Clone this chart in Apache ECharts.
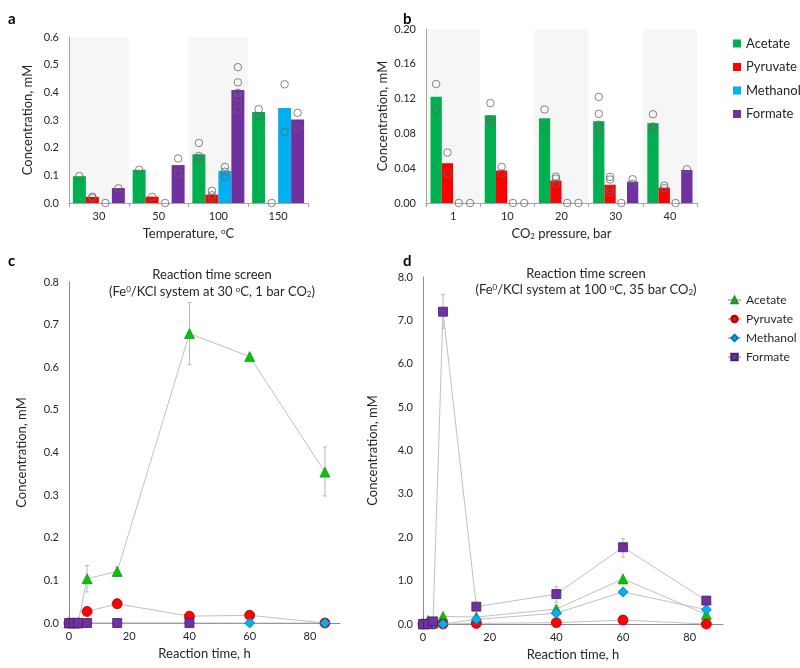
<!DOCTYPE html>
<html><head><meta charset="utf-8">
<script src="https://cdn.jsdelivr.net/npm/echarts@6/dist/echarts.min.js"></script>
<style>html,body{margin:0;padding:0;background:#fff}#chart{width:800px;height:668px}</style>
</head><body><div id="chart"></div>
<script>
// ---------- data ----------
const seriesNames = ['Acetate', 'Pyruvate', 'Methanol', 'Formate'];

// panel a: temperature screen
const aCategories = ['30', '50', '100', '150'];
const aAcetate  = [0.097, 0.120, 0.176, 0.329];
const aPyruvate = [0.022, 0.023, 0.030, 0];
const aMethanol = [0, 0, 0.116, 0.343];
const aFormate  = [0.054, 0.137, 0.408, 0.302];
const aAcetatePts  = [[0.097], [0.120], [0.217, 0.170, 0.162], [0.339, 0.313]];
const aPyruvatePts = [[0.023, 0.018], [0.022], [0.044, 0.028, 0.018], [0]];
const aMethanolPts = [[0], [0], [0.130, 0.113, 0.095], [0.429, 0.257]];
const aFormatePts  = [[0.053], [0.161, 0.106], [0.491, 0.436, 0.398, 0.382, 0.337], [0.326, 0.271]];

// panel b: CO2 pressure screen
const bCategories = ['1', '10', '20', '30', '40'];
const bAcetate  = [0.122, 0.101, 0.0975, 0.094, 0.0918];
const bPyruvate = [0.0457, 0.0373, 0.0258, 0.021, 0.0177];
const bMethanol = [0, 0, 0, 0, 0];
const bFormate  = [0, 0, 0, 0.0246, 0.038];
const bAcetatePts  = [[0.1367, 0.1075], [0.1148, 0.096, 0.0926], [0.1075, 0.0875], [0.122, 0.1025, 0.090, 0.087, 0.078], [0.102, 0.088, 0.085]];
const bPyruvatePts = [[0.058, 0.034], [0.0415, 0.034], [0.0304, 0.028, 0.022], [0.030, 0.027, 0.0158, 0.012], [0.020, 0.017]];
const bMethanolPts = [[0], [0], [0], [0], [0]];
const bFormatePts  = [[0], [0], [0], [0.0273, 0.022], [0.0388]];

// panel c: reaction time, 30 oC, 1 bar
const cTime     = [0, 1.5, 3, 6, 16, 40, 60, 85];
const cAcetate  = [0, 0, 0, 0.104, 0.121, 0.679, 0.625, 0.354];
const cPyruvate = [0, 0, 0, 0.027, 0.045, 0.016, 0.018, 0];
const cMethanol = [0, 0, 0, 0, 0, 0, 0, 0];
const cFormate  = [0, 0, 0, 0, 0, 0, null, null];
const cAcetateErr  = [[6, 0.073, 0.135], [16, 0.108, 0.132], [40, 0.606, 0.752], [60, 0.618, 0.632], [85, 0.298, 0.413]];
const cPyruvateErr = [[16, 0.035, 0.057]];

// panel d: reaction time, 100 oC, 35 bar
const dTime     = [0, 1.5, 3, 6, 16, 40, 60, 85];
const dAcetate  = [0, 0.08, 0.02, 0.175, 0.16, 0.345, 1.04, 0.22];
const dPyruvate = [0, 0, 0, 0, 0.014, 0.03, 0.09, 0];
const dMethanol = [0, 0, 0, 0, 0.106, 0.25, 0.74, 0.33];
const dFormate  = [0, 0, 0.06, 7.20, 0.40, 0.69, 1.77, 0.54];
const dFormateErr = [[6, 6.82, 7.60], [40, 0.50, 0.86], [60, 1.54, 1.97]];

// ---------- styles ----------
const FONT = 'Lato';
const TXT = '#262626';
const AXIS = '#a6a6a6';
const barColors = ['#00b050', '#ff0000', '#00b0f0', '#7030a0'];
const markers = [
  {symbol: 'triangle', size: 10, color: '#00c800', border: '#2e8b2e'},
  {symbol: 'circle', size: 10, color: '#ff0000', border: '#b00000'},
  {symbol: 'diamond', size: 10, color: '#00b0f0', border: '#0070c0'},
  {symbol: 'rect', size: 9, color: '#7030a0', border: '#4a2070'}
];
const aGap = 0.13, bGap = 0.167;

function replicatePoints(lists, gap) {
  const w = (1 - gap) / 4, out = [];
  lists.forEach((perCat, k) => perCat.forEach((vals, i) =>
    vals.forEach(v => out.push([i + 0.5 + (k - 1.5) * w, v]))));
  return out;
}
function barSeries(values, k, xi, yi, gap) {
  return {type: 'bar', name: seriesNames[k], xAxisIndex: xi, yAxisIndex: yi, data: values,
    barGap: '0%', barCategoryGap: (gap * 100) + '%', itemStyle: {color: barColors[k]}, silent: true};
}
function repSeries(data, xi, yi) {
  return {type: 'scatter', name: 'replicates', xAxisIndex: xi, yAxisIndex: yi, data: data, symbol: 'circle',
    symbolSize: 7.5, itemStyle: {color: 'rgba(0,0,0,0)', borderColor: '#666666', borderWidth: 1}, z: 4, silent: true};
}
function lineSeries(times, values, k, xi, yi) {
  const m = markers[k];
  const data = [];
  times.forEach((t, i) => { if (values[i] !== null) data.push([t, values[i]]); });
  return {type: 'line', name: seriesNames[k] + '|t', xAxisIndex: xi, yAxisIndex: yi, data: data,
    symbol: m.symbol, symbolSize: m.size, showAllSymbol: true,
    lineStyle: {color: '#c0c0c0', width: 1},
    itemStyle: {color: m.color, borderColor: m.border, borderWidth: 0.8}, z: 3 + k * 0.1, silent: true};
}
function errSeries(data, xi, yi) {
  return {type: 'custom', xAxisIndex: xi, yAxisIndex: yi, data: data, z: 1, silent: true,
    encode: {x: 0, y: [1, 2]},
    renderItem: function (params, api) {
      const x = api.value(0);
      const p1 = api.coord([x, api.value(1)]), p2 = api.coord([x, api.value(2)]);
      const st = {stroke: '#b8b8b8', lineWidth: 1};
      return {type: 'group', children: [
        {type: 'line', shape: {x1: p1[0], y1: p1[1], x2: p2[0], y2: p2[1]}, style: st},
        {type: 'line', shape: {x1: p1[0] - 2, y1: p1[1], x2: p1[0] + 2, y2: p1[1]}, style: st},
        {type: 'line', shape: {x1: p2[0] - 2, y1: p2[1], x2: p2[0] + 2, y2: p2[1]}, style: st}
      ]};
    }};
}
const supRich = {
  sup: {fontSize: 8, fontFamily: FONT, verticalAlign: 'top', color: TXT},
  sub: {fontSize: 8, fontFamily: FONT, verticalAlign: 'bottom', color: TXT}
};
const yBase = (grid, min, max, interval, digits, name, gap) => ({
  type: 'value', gridIndex: grid, min: min, max: max, interval: interval,
  axisLine: {show: true, lineStyle: {color: AXIS}}, axisTick: {show: false}, splitLine: {show: false},
  axisLabel: {fontSize: 11, color: TXT, margin: 10, formatter: v => v.toFixed(digits)},
  name: name, nameLocation: 'middle', nameGap: gap, nameTextStyle: {fontSize: 13, color: TXT}
});
const catBase = (grid, cats, name) => ({
  type: 'category', gridIndex: grid, data: cats, boundaryGap: true,
  axisLine: {lineStyle: {color: AXIS}}, axisTick: {show: true, length: 4, lineStyle: {color: AXIS}},
  axisLabel: {fontSize: 11, color: TXT, margin: 8},
  splitArea: {show: true, areaStyle: {color: ['#f6f6f6', 'rgba(255,255,255,0)']}},
  name: name, nameLocation: 'middle', nameGap: 24, nameTextStyle: {fontSize: 13, color: TXT, rich: supRich}
});
const timeAxis = (grid, gap) => ({
  type: 'value', gridIndex: grid, min: 0, max: 90, interval: 20,
  axisLine: {lineStyle: {color: '#8c8c8c'}}, axisTick: {show: false}, splitLine: {show: false},
  axisLabel: {fontSize: 11, color: TXT, margin: 8, showMaxLabel: false, formatter: v => (v % 20 === 0 ? String(v) : '')},
  name: 'Reaction time, h', nameLocation: 'middle', nameGap: gap, nameTextStyle: {fontSize: 13, color: TXT}
});

const option = {
  animation: false,
  textStyle: {fontFamily: FONT},
  grid: [
    {left: 69, top: 37, width: 239, height: 166},
    {left: 426, top: 29, width: 271, height: 174},
    {left: 69, top: 282, width: 271, height: 341},
    {left: 423, top: 277, width: 300, height: 347}
  ],
  xAxis: [
    catBase(0, aCategories, 'Temperature, {sup|o}C'),
    {type: 'value', gridIndex: 0, min: 0, max: aCategories.length, show: false},
    catBase(1, bCategories, 'CO{sub|2} pressure, bar'),
    {type: 'value', gridIndex: 1, min: 0, max: bCategories.length, show: false},
    timeAxis(2, 23),
    timeAxis(3, 24)
  ],
  yAxis: [
    yBase(0, 0, 0.6, 0.1, 1, 'Concentration, mM', 35),
    yBase(1, 0, 0.2, 0.04, 2, 'Concentration, mM', 37),
    Object.assign(yBase(2, 0, 0.8, 0.1, 1, 'Concentration, mM', 41), {axisLine: {show: true, lineStyle: {color: '#8c8c8c'}}}),
    Object.assign(yBase(3, 0, 8, 1, 1, 'Concentration, mM', 44), {axisLine: {show: true, lineStyle: {color: '#8c8c8c'}}})
  ],
  legend: [
    {data: seriesNames, orient: 'vertical', left: 728, top: 32, icon: 'rect', itemWidth: 8, itemHeight: 8,
      itemGap: 10.5, textStyle: {fontSize: 13, color: TXT, fontFamily: FONT}, selectedMode: false},
    {data: seriesNames.map(n => n + '|t'), formatter: n => n.split('|')[0], orient: 'vertical', left: 722, top: 289,
      itemWidth: 13, itemHeight: 8, itemGap: 7, textStyle: {fontSize: 12, color: TXT, fontFamily: FONT}, selectedMode: false}
  ],
  graphic: [
    {type: 'text', x: 8, y: 19, style: {text: 'a', fontSize: 15, fontWeight: 'bold', fontFamily: FONT, fill: '#000', verticalAlign: 'middle'}},
    {type: 'text', x: 403, y: 19, style: {text: 'b', fontSize: 15, fontWeight: 'bold', fontFamily: FONT, fill: '#000', verticalAlign: 'middle'}},
    {type: 'text', x: 8, y: 261, style: {text: 'c', fontSize: 15, fontWeight: 'bold', fontFamily: FONT, fill: '#000', verticalAlign: 'middle'}},
    {type: 'text', x: 403, y: 261, style: {text: 'd', fontSize: 15, fontWeight: 'bold', fontFamily: FONT, fill: '#000', verticalAlign: 'middle'}},
    {type: 'text', x: 212, y: 275, style: {text: 'Reaction time screen', fontSize: 13, fontFamily: FONT, fill: TXT, align: 'center', verticalAlign: 'middle'}},
    {type: 'text', x: 212, y: 292, style: {text: '(Fe{sup|0}/KCl system at 30 {sup|o}C, 1 bar CO{sub|2})', rich: supRich, fontSize: 13, fontFamily: FONT, fill: TXT, align: 'center', verticalAlign: 'middle'}},
    {type: 'text', x: 586, y: 274, style: {text: 'Reaction time screen', fontSize: 13, fontFamily: FONT, fill: TXT, align: 'center', verticalAlign: 'middle'}},
    {type: 'text', x: 586, y: 290, style: {text: '(Fe{sup|0}/KCl system at 100 {sup|o}C, 35 bar CO{sub|2})', rich: supRich, fontSize: 13, fontFamily: FONT, fill: TXT, align: 'center', verticalAlign: 'middle'}}
  ],
  series: [
    barSeries(aAcetate, 0, 0, 0, aGap), barSeries(aPyruvate, 1, 0, 0, aGap),
    barSeries(aMethanol, 2, 0, 0, aGap), barSeries(aFormate, 3, 0, 0, aGap),
    repSeries(replicatePoints([aAcetatePts, aPyruvatePts, aMethanolPts, aFormatePts], aGap), 1, 0),
    barSeries(bAcetate, 0, 2, 1, bGap), barSeries(bPyruvate, 1, 2, 1, bGap),
    barSeries(bMethanol, 2, 2, 1, bGap), barSeries(bFormate, 3, 2, 1, bGap),
    repSeries(replicatePoints([bAcetatePts, bPyruvatePts, bMethanolPts, bFormatePts], bGap), 3, 1),
    errSeries(cAcetateErr, 4, 2), errSeries(cPyruvateErr, 4, 2),
    lineSeries(cTime, cAcetate, 0, 4, 2), lineSeries(cTime, cPyruvate, 1, 4, 2),
    lineSeries(cTime, cMethanol, 2, 4, 2), lineSeries(cTime, cFormate, 3, 4, 2),
    errSeries(dFormateErr, 5, 3),
    lineSeries(dTime, dAcetate, 0, 5, 3), lineSeries(dTime, dPyruvate, 1, 5, 3),
    lineSeries(dTime, dMethanol, 2, 5, 3), lineSeries(dTime, dFormate, 3, 5, 3)
  ]
};
echarts.init(document.getElementById('chart'), null, {renderer: 'canvas'}).setOption(option);
</script>
</body></html>
